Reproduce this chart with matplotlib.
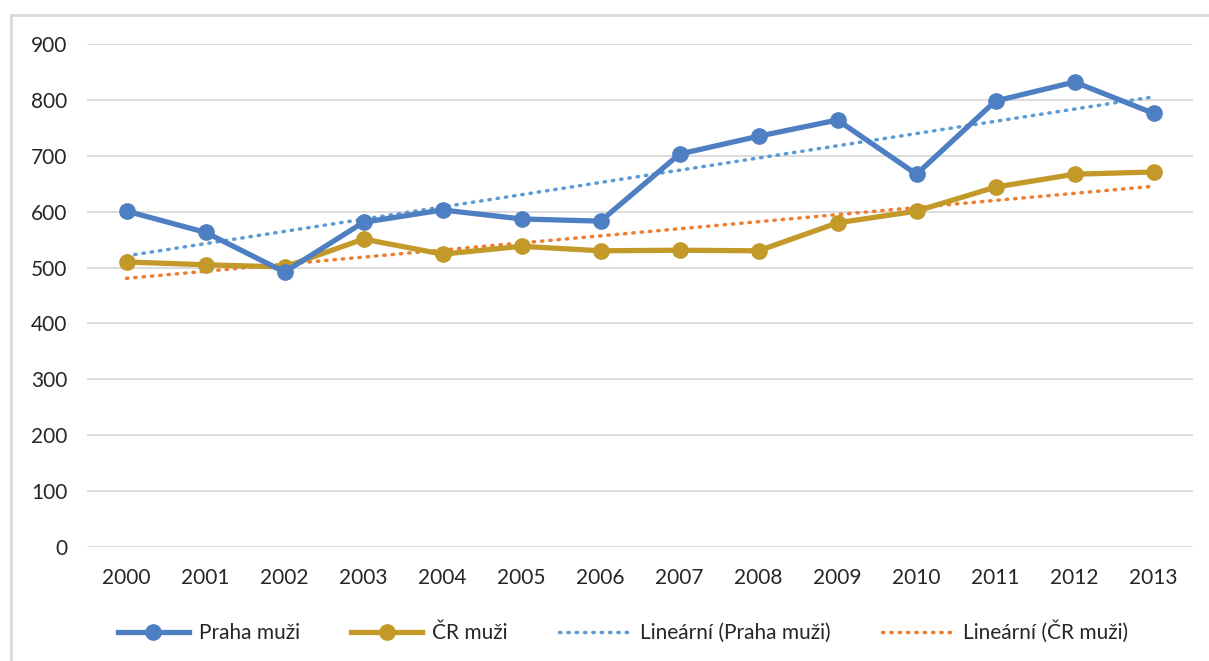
import numpy as np
import matplotlib.pyplot as plt
from matplotlib.lines import Line2D

# data
years = ['2000', '2001', '2002', '2003', '2004', '2005', '2006',
         '2007', '2008', '2009', '2010', '2011', '2012', '2013']
praha = [601, 563, 492, 581, 603, 587, 583, 703, 735, 764, 667, 798, 832, 776]
cr = [510, 505, 501, 551, 524, 538, 530, 531, 530, 580, 601, 644, 667, 671]

blue = '#4E7FC2'
gold = '#C3992A'
trend_blue = '#5B9BD5'
trend_orange = '#ED7D31'
dots = (0, (0.4, 2.0))

plt.rcParams['font.family'] = ['Lato', 'DejaVu Sans']

fig = plt.figure(figsize=(12.09, 6.61), dpi=100)
ax = fig.add_axes([87 / 1209, 1 - 547 / 661, (1193 - 87) / 1209, (547 - 44) / 661])

x = np.arange(len(years))

# linear trends (Excel-style), fitted on 1..n
xi = x + 1
kp = np.polyfit(xi, praha, 1)
kc = np.polyfit(xi, cr, 1)

ax.plot(x, np.polyval(kp, xi), color=trend_blue, lw=2.5, ls=dots,
        dash_capstyle='round', zorder=2)
ax.plot(x, np.polyval(kc, xi), color=trend_orange, lw=2.5, ls=dots,
        dash_capstyle='round', zorder=2)
ax.plot(x, praha, color=blue, lw=3.8, marker='o', ms=11, zorder=4)
ax.plot(x, cr, color=gold, lw=3.8, marker='o', ms=11, zorder=3)

ax.set_xlim(-0.5, len(years) - 0.5)
ax.set_ylim(0, 900)
ax.set_yticks(range(0, 1000, 100))
ax.set_xticks(x)
ax.set_xticklabels(years)
ax.grid(axis='y', color='#d9d9d9', lw=1.3)
ax.set_axisbelow(True)
for s in ax.spines.values():
    s.set_visible(False)
ax.tick_params(length=0, labelsize=15, colors='#262626')
ax.tick_params(axis='y', pad=14)
ax.tick_params(axis='x', pad=15)

handles = [
    Line2D([], [], color=blue, lw=3.8, marker='o', ms=11),
    Line2D([], [], color=gold, lw=3.8, marker='o', ms=11),
    Line2D([], [], color=trend_blue, lw=2.5, ls=dots, dash_capstyle='round'),
    Line2D([], [], color=trend_orange, lw=2.5, ls=dots, dash_capstyle='round'),
]
labels = ['Praha muži', 'ČR muži', 'Lineární (Praha muži)', 'Lineární (ČR muži)']
fig.legend(handles, labels, loc='center', bbox_to_anchor=(623 / 1209, 1 - 632 / 661),
           ncol=4, frameon=False, fontsize=15, handlelength=3.4, columnspacing=2.45,
           handletextpad=0.5, labelcolor='#262626')

# chart frame (top and left border)
fig.add_artist(Line2D([11 / 1209, 11 / 1209], [0, 1 - 15 / 661], color='#d9d9d9', lw=2,
                      transform=fig.transFigure))
fig.add_artist(Line2D([11 / 1209, 1], [1 - 15 / 661, 1 - 15 / 661], color='#d9d9d9', lw=2,
                      transform=fig.transFigure))

fig.savefig('out.png', dpi=100, facecolor='white')
